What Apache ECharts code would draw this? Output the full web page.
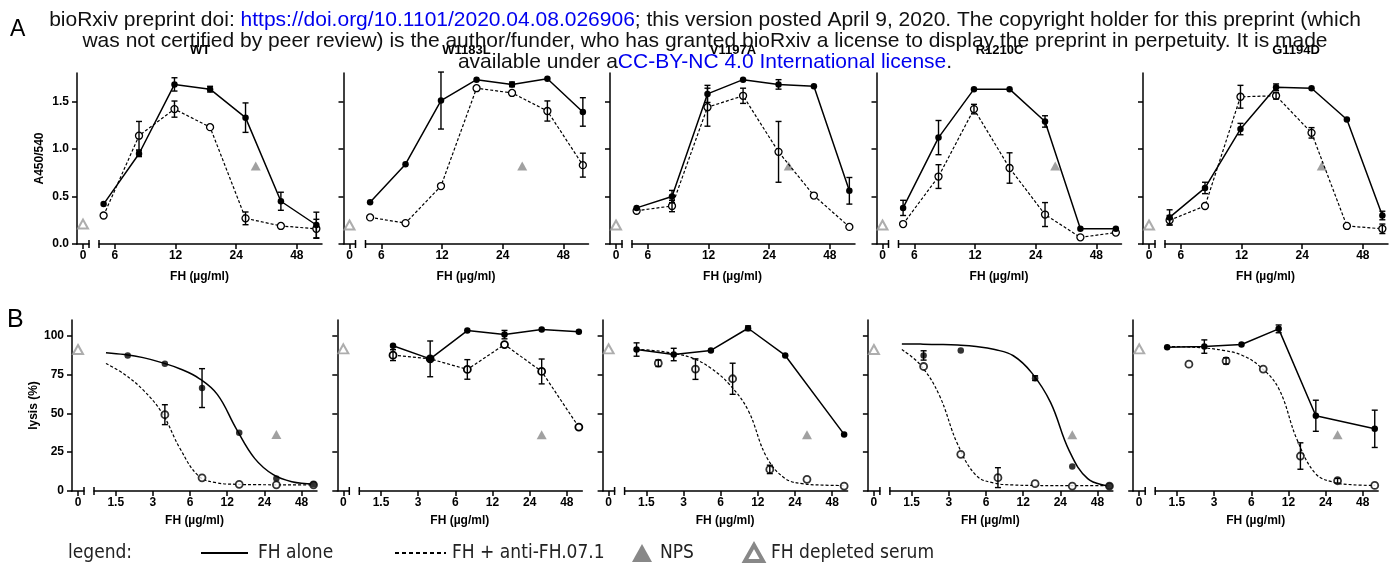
<!DOCTYPE html>
<html>
<head>
<meta charset="utf-8">
<script src="https://cdn.jsdelivr.net/npm/echarts@6/dist/echarts.min.js"></script>
<style>
  html, body { margin: 0; padding: 0; background: #fff; }
  #chart { width: 1398px; height: 567px; }
</style>
</head>
<body>
<div id="chart"></div>
<script>
// ---- data ----
const mutants = ['WT', 'W1183L', 'V1197A', 'R1210C', 'G1194D'];
const npsConc = 30;

// A: ELISA, A450/540
const concA = [5.27, 7.9, 11.85, 17.8, 26.7, 40, 60];
const aAlone = [
  [0.42, 0.95, 1.68, 1.63, 1.33, 0.45, 0.2],
  [0.44, 0.84, 1.51, 1.73, 1.68, 1.74, 1.39],
  [0.38, 0.5, 1.58, 1.73, 1.68, 1.66, 0.56],
  [0.38, 1.12, 1.63, 1.63, 1.29, 0.16, 0.16],
  [0.28, 0.59, 1.21, 1.65, 1.64, 1.31, 0.3]
];
const aAloneErr = [
  [null, 0.03, 0.07, 0.03, 0.155, 0.095, 0.135],
  [null, null, 0.3, null, 0.025, null, 0.15],
  [null, 0.064, 0.09, null, 0.05, null, 0.14],
  [0.08, 0.18, null, null, 0.06, null, null],
  [0.08, 0.06, 0.06, 0.035, null, null, 0.045]
];
const aAnti = [
  [0.3, 1.14, 1.42, 1.23, 0.27, 0.19, 0.16],
  [0.28, 0.22, 0.61, 1.64, 1.59, 1.4, 0.83],
  [0.35, 0.4, 1.44, 1.56, 0.97, 0.51, 0.18],
  [0.21, 0.71, 1.42, 0.8, 0.31, 0.07, 0.12],
  [0.25, 0.4, 1.55, 1.56, 1.17, 0.19, 0.16]
];
const aAntiErr = [
  [null, 0.15, 0.085, null, 0.067, null, 0.1],
  [null, null, null, null, null, 0.106, 0.126],
  [null, 0.06, 0.2, 0.08, 0.32, null, null],
  [null, 0.125, 0.05, 0.16, 0.126, null, null],
  [0.05, null, 0.12, 0.035, 0.055, null, 0.05]
];
const aNps = [0.82, 0.82, 0.82, 0.82, 0.82];
const aDepleted = [0.21, 0.2, 0.2, 0.2, 0.2];

// B: haemolysis, lysis (%)
const concB = [1.875, 3.75, 7.5, 15, 30, 60];
const concBshift = [1.25, 2.5, 5, 10, 20, 60];
const bAloneConc = [concB, concB, concBshift, [1.875, 3.75, 15, 30, 60], concBshift];
const bAlone = [
  [87.2, 81.8, 66.2, 37.4, 8.1, 4.3],
  [93.4, 85, 103.2, 100.6, 103.9, 102.4],
  [91, 87.8, 90.4, 104.7, 87.2, 36.4],
  [87.2, 90.4, 72.6, 15.8, 3.2],
  [92.5, 92.9, 94.2, 104.3, 48.4, 40]
];
const bAloneErr = [
  [null, null, 12.5, null, null, null],
  [null, 11.5, null, 2.7, null, null],
  [4.3, 4, null, 1.5, null, null],
  [3, null, 1.5, null, null],
  [null, 4.3, null, 2.5, 10, 12]
];
const bAntiConc = [[3.75, 7.5, 15, 30, 60], concB, concB, concB, concB];
const bAnti = [
  [49.1, 8.5, 4.3, 4, 4],
  [87.4, 85, 78.2, 94.2, 76.9, 41.1],
  [82.2, 78.4, 72.2, 13.9, 7.5, 3.2],
  [80.1, 23.6, 8.6, 4.7, 3.2, 3.2],
  [81.6, 83.7, 78.4, 22.5, 6.6, 3.6]
];
const bAntiErr = [
  [6.4, null, null, null, null],
  [3.5, null, 6.3, null, 8, null],
  [2.1, 6.6, 10, 2.7, null, null],
  [null, null, 6.4, null, null, null],
  [null, 2, null, 8.5, 1.5, null]
];
// fitted dose-response curves, read at these concentrations (null = points joined instead)
const fitConc = [1.25, 1.77, 2.5, 3.54, 5, 7.07, 10, 14.1, 20, 28.3, 40, 60];
const bAloneFit = [
  [89, 87.8, 85.8, 82.6, 78.5, 72.5, 62, 40.5, 21, 10.5, 6, 4.5],
  null,
  null,
  [94.6, 94.5, 94.3, 93.9, 93, 91, 87, 76, 57, 26, 8, 3.2],
  null
];
const bAntiFit = [
  [82, 75, 65, 50.5, 27, 9.5, 5.2, 4.3, 4.1, 4, 4, 4],
  null,
  [91, 90.3, 88.5, 85.5, 79, 68.5, 52, 22, 8, 4.6, 3.8, 3.5],
  [91, 81, 62, 30, 10, 5, 3.9, 3.6, 3.5, 3.5, 3.5, 3.5],
  [93, 92.7, 92, 90.5, 87.5, 80, 66, 33, 11, 5.5, 4, 3.6]
];
const bNps = [36.3, 36.2, 36.2, 36.2, 36.2];
const bDepleted = [91, 91.4, 91.4, 91, 91.4];

// tick labels
const xTicksA = [6, 12, 24, 48];
const xTicksB = [1.5, 3, 6, 12, 24, 48];
const yTicksA = [0, 0.5, 1, 1.5];
const yTicksB = [0, 25, 50, 75, 100];

// ---- layout ----
const rows = [
  { top: 73, x0: 77, step: 266.5, yMax: 1.8, xMin: 5, xMax: 64, xTicks: xTicksA, yTicks: yTicksA,
    yName: 'A450/540', yNameGap: 31, xNameGap: 27, yFmt: v => v.toFixed(1), openBorder: 1.3 },
  { top: 320, x0: 72, step: 265.3, yMax: 110, xMin: 1, xMax: 64, xTicks: xTicksB, yTicks: yTicksB,
    yName: 'lysis (%)', yNameGap: 32, xNameGap: 24, yFmt: v => String(v), openBorder: 1.8 }
];

const FONT = '"Liberation Sans", Arial, sans-serif';
const NARROW = '"Liberation Sans Narrow", "Arial Narrow", "DejaVu Sans Condensed", sans-serif';
const lg2 = Math.log2;
const fmtConc = v => String(Math.round(Math.pow(2, v) * 100) / 100);

const axisLine = { show: true, onZero: false, lineStyle: { color: '#000', width: 1.5 } };
const tick = { show: true, length: 5, lineStyle: { color: '#000', width: 1.5 } };
const tickLabel = { color: '#000', fontFamily: FONT, fontWeight: 'bold', fontSize: 12 };
const nameStyle = { color: '#000', fontFamily: FONT, fontWeight: 'bold', fontSize: 12 };

const grid = [], xAxis = [], yAxis = [], series = [];

function renderErr(params, api) {
  const x = api.value(0), y = api.value(1), e = api.value(2);
  const hi = api.coord([x, y + e]);
  const lo = api.coord([x, Math.max(0, y - e)]);
  const st = { stroke: '#000', lineWidth: 1.4 };
  return {
    type: 'group',
    children: [
      { type: 'line', shape: { x1: hi[0], y1: hi[1], x2: lo[0], y2: lo[1] }, style: st },
      { type: 'line', shape: { x1: hi[0] - 3, y1: hi[1], x2: hi[0] + 3, y2: hi[1] }, style: st },
      { type: 'line', shape: { x1: lo[0] - 3, y1: lo[1], x2: lo[0] + 3, y2: lo[1] }, style: st }
    ]
  };
}

function renderBreak(params, api) {
  const c = api.coord([api.value(0), api.value(1)]);
  return { type: 'line', shape: { x1: c[0], y1: c[1] - 4, x2: c[0], y2: c[1] + 4 },
           style: { stroke: '#000', lineWidth: 1.5 } };
}

function addGroup(row, g, axisIdx) {
  const filled = g.kind === 'alone';
  const pts = g.conc.map((c, k) => [lg2(c), g.vals[k]]);
  const dot = filled ? { color: '#000' } : { color: '#fff', borderColor: '#000', borderWidth: row.openBorder };
  const ls = { color: '#000', width: filled ? 1.5 : 1.2, type: filled ? 'solid' : [3, 2] };
  const common = { xAxisIndex: axisIdx, yAxisIndex: axisIdx, silent: true };
  if (g.fit) {
    series.push(Object.assign({ type: 'line', data: fitConc.map((c, k) => [lg2(c), g.fit[k]]),
      showSymbol: false, smooth: 0.4, lineStyle: ls, z: 2 }, common));
    series.push(Object.assign({ type: 'scatter', data: pts, symbol: 'circle',
      symbolSize: filled ? 6.5 : 7, itemStyle: dot, z: filled ? 5 : 4 }, common));
  } else {
    series.push(Object.assign({ type: 'line', data: pts, symbol: 'circle', showAllSymbol: true,
      symbolSize: filled ? 6.5 : 7, itemStyle: dot, lineStyle: ls, z: filled ? 5 : 4 }, common));
  }
  const errs = [];
  g.err.forEach((e, k) => { if (e != null) errs.push([pts[k][0], pts[k][1], e]); });
  if (errs.length) {
    series.push(Object.assign({ type: 'custom', data: errs, renderItem: renderErr, z: 6 }, common));
  }
}

function addPanel(row, i, groups, nps, depleted) {
  const left = row.x0 + row.step * i;
  const gL = grid.length, gM = gL + 1;
  grid.push({ left: left, top: row.top, width: 12, height: 171 });
  grid.push({ left: left + 22, top: row.top, width: 223, height: 171 });

  xAxis.push({ type: 'value', gridIndex: gL, min: -1, max: 1, axisLine: axisLine,
    axisTick: Object.assign({ customValues: [0] }, tick),
    axisLabel: Object.assign({ customValues: [0], margin: 6, formatter: () => '0' }, tickLabel),
    splitLine: { show: false } });
  xAxis.push({ type: 'value', gridIndex: gM, min: lg2(row.xMin), max: lg2(row.xMax), axisLine: axisLine,
    axisTick: Object.assign({ customValues: row.xTicks.map(lg2) }, tick),
    axisLabel: Object.assign({ customValues: row.xTicks.map(lg2), margin: 6, formatter: fmtConc }, tickLabel),
    splitLine: { show: false },
    name: 'FH (µg/ml)', nameLocation: 'middle', nameGap: row.xNameGap,
    nameTextStyle: Object.assign({ padding: [0, 22, 0, 0] }, nameStyle) });

  yAxis.push({ type: 'value', gridIndex: gL, min: 0, max: row.yMax, axisLine: axisLine,
    axisTick: Object.assign({ customValues: row.yTicks }, tick),
    axisLabel: Object.assign({ show: i === 0, customValues: row.yTicks, margin: 8, formatter: row.yFmt }, tickLabel),
    splitLine: { show: false },
    name: i === 0 ? row.yName : '', nameLocation: 'middle', nameGap: row.yNameGap, nameRotate: 90,
    nameTextStyle: nameStyle });
  yAxis.push({ type: 'value', gridIndex: gM, min: 0, max: row.yMax, show: false, splitLine: { show: false } });

  groups.forEach(g => addGroup(row, g, gM));

  series.push({ type: 'scatter', xAxisIndex: gM, yAxisIndex: gM, data: [[lg2(npsConc), nps]],
    symbol: 'triangle', symbolSize: [10, 9], itemStyle: { color: '#8a8a8a' }, z: 3, silent: true });
  series.push({ type: 'scatter', xAxisIndex: gL, yAxisIndex: gL, data: [[0, depleted]],
    symbol: 'triangle', symbolSize: [10, 9], itemStyle: { color: '#fff', borderColor: '#999', borderWidth: 2 },
    z: 3, silent: true });

  series.push({ type: 'custom', xAxisIndex: gL, yAxisIndex: gL, data: [[1, 0]], renderItem: renderBreak, clip: false, silent: true });
  series.push({ type: 'custom', xAxisIndex: gM, yAxisIndex: gM, data: [[lg2(row.xMin), 0]], renderItem: renderBreak, clip: false, silent: true });
}

mutants.forEach((m, i) => {
  addPanel(rows[0], i, [
    { kind: 'anti', conc: concA, vals: aAnti[i], err: aAntiErr[i] },
    { kind: 'alone', conc: concA, vals: aAlone[i], err: aAloneErr[i] }
  ], aNps[i], aDepleted[i]);
});
mutants.forEach((m, i) => {
  addPanel(rows[1], i, [
    { kind: 'anti', conc: bAntiConc[i], vals: bAnti[i], err: bAntiErr[i], fit: bAntiFit[i] },
    { kind: 'alone', conc: bAloneConc[i], vals: bAlone[i], err: bAloneErr[i], fit: bAloneFit[i] }
  ], bNps[i], bDepleted[i]);
});

// ---- text furniture ----
const graphic = [];
const titleShift = [0, 0, 0, 0, 30];
mutants.forEach((m, i) => {
  graphic.push({ type: 'text', x: rows[0].x0 + rows[0].step * i + 123 + titleShift[i], y: 50, z: 10,
    style: { text: m, align: 'center', verticalAlign: 'middle', fill: '#000',
             font: 'bold 13px ' + FONT } });
});
graphic.push({ type: 'text', x: 10, y: 30, z: 10,
  style: { text: 'A', verticalAlign: 'middle', fill: '#000', font: '23px ' + FONT } });
graphic.push({ type: 'text', x: 7, y: 320, z: 10,
  style: { text: 'B', verticalAlign: 'middle', fill: '#000', font: '25px ' + FONT } });

const headRich = {
  k: { fill: '#111', fontSize: 21, fontFamily: FONT },
  u: { fill: '#0000ee', fontSize: 21, fontFamily: FONT }
};
const headLines = [
  '{k|bioRxiv preprint doi: }{u|https://doi.org/10.1101/2020.04.08.026906}{k|; this version posted April 9, 2020. The copyright holder for this preprint (which}',
  '{k|was not certified by peer review) is the author/funder, who has granted bioRxiv a license to display the preprint in perpetuity. It is made}',
  '{k|available under a}{u|CC-BY-NC 4.0 International license}{k|.}'
];
headLines.forEach((t, k) => {
  graphic.push({ type: 'text', x: 705, y: 20 + 21 * k, z: 20,
    style: { text: t, rich: headRich, align: 'center', verticalAlign: 'middle' } });
});

// legend row
const ly = 553;
const legFont = '19px ' + NARROW;
graphic.push({ type: 'text', x: 68, y: ly, style: { text: 'legend:', verticalAlign: 'middle', fill: '#222', font: legFont } });
graphic.push({ type: 'line', shape: { x1: 201, y1: ly, x2: 248, y2: ly }, style: { stroke: '#000', lineWidth: 2 } });
graphic.push({ type: 'text', x: 258, y: ly, style: { text: 'FH alone', verticalAlign: 'middle', fill: '#222', font: legFont } });
graphic.push({ type: 'line', shape: { x1: 395, y1: ly, x2: 446, y2: ly }, style: { stroke: '#000', lineWidth: 2, lineDash: [4, 3] } });
graphic.push({ type: 'text', x: 452, y: ly, style: { text: 'FH + anti-FH.07.1', verticalAlign: 'middle', fill: '#222', font: legFont } });
graphic.push({ type: 'polygon', shape: { points: [[632, 562], [652, 562], [642, 544]] }, style: { fill: '#888' } });
graphic.push({ type: 'text', x: 660, y: ly, style: { text: 'NPS', verticalAlign: 'middle', fill: '#222', font: legFont } });
graphic.push({ type: 'polygon', shape: { points: [[745, 561], [763, 561], [754, 545]] },
  style: { fill: '#fff', stroke: '#888', lineWidth: 4, lineJoin: 'miter' } });
graphic.push({ type: 'text', x: 771, y: ly, style: { text: 'FH depleted serum', verticalAlign: 'middle', fill: '#222', font: legFont } });

const chart = echarts.init(document.getElementById('chart'));
chart.setOption({
  animation: false,
  backgroundColor: '#fff',
  grid: grid,
  xAxis: xAxis,
  yAxis: yAxis,
  series: series,
  graphic: graphic
});
</script>
</body>
</html>
